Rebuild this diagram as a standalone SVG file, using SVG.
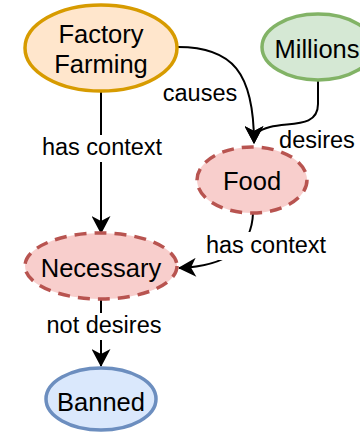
<svg xmlns="http://www.w3.org/2000/svg" width="360" height="432" viewBox="0 0 360 432">
  <style>
    .node-text { font-family: "Liberation Sans", Arial, sans-serif; font-size: 25.5px; fill: #000; text-anchor: middle; }
    .label { font-family: "Liberation Sans", Arial, sans-serif; font-size: 23.5px; fill: #000; text-anchor: middle; }
    .edge { fill: none; stroke: #000; stroke-width: 2; }
    .label-bg { fill: #fff; }
    .dashed { fill: #f8cecc; stroke: #b85450; stroke-width: 3.5; stroke-dasharray: 12 8; }
  </style>
  <defs>
    <marker id="arrow" markerUnits="userSpaceOnUse" markerWidth="19" markerHeight="19" viewBox="0 0 18 19" refX="17" refY="9.5" orient="auto">
      <path d="M0,0 L18,9.5 L0,19 L5,9.5 z" fill="#000"/>
    </marker>
  </defs>

  <!-- connectors -->
  <g id="edges">
    <path class="edge" d="M178,47 C232,47 254,72 254,143" marker-end="url(#arrow)"/>
    <path class="edge" d="M318,80 L318,104 C318,128 290,122 270,127 C258,130 254,134 254,143" marker-end="url(#arrow)"/>
    <path class="edge" d="M101,92 L101,233" marker-end="url(#arrow)"/>
    <path class="edge" d="M253,213 C252,245 230,266 179,268" marker-end="url(#arrow)"/>
    <path class="edge" d="M101,299 L101,366" marker-end="url(#arrow)"/>

    <!-- edge labels -->
    <rect class="label-bg" x="40" y="135" width="124" height="27"/>
    <text class="label" x="102" y="155">has context</text>
    <text class="label" x="200" y="101">causes</text>
    <text class="label" x="317" y="148">desires</text>
    <rect class="label-bg" x="204" y="232" width="124" height="28"/>
    <text class="label" x="266" y="253">has context</text>
    <rect class="label-bg" x="45" y="313" width="118" height="27"/>
    <text class="label" x="104" y="333">not desires</text>
  </g>

  <g id="factory-farming">
    <ellipse cx="101" cy="48" rx="76" ry="43" fill="#ffe6cc" stroke="#d79b00" stroke-width="3.5"/>
    <text class="node-text" x="101" y="43">Factory</text>
    <text class="node-text" x="101" y="73">Farming</text>
  </g>

  <g id="millions">
    <ellipse cx="318" cy="47" rx="56" ry="33" fill="#d5e8d4" stroke="#82b366" stroke-width="3.5"/>
    <text class="node-text" x="317" y="58">Millions</text>
  </g>

  <g id="food">
    <ellipse class="dashed" cx="252" cy="180" rx="55" ry="33"/>
    <text class="node-text" x="252" y="190">Food</text>
  </g>

  <g id="necessary">
    <ellipse class="dashed" cx="101" cy="266" rx="76" ry="33"/>
    <text class="node-text" x="101" y="277">Necessary</text>
  </g>

  <g id="banned">
    <ellipse cx="101" cy="399" rx="55" ry="31" fill="#dae8fc" stroke="#6c8ebf" stroke-width="3.5"/>
    <text class="node-text" x="101" y="411">Banned</text>
  </g>
</svg>
